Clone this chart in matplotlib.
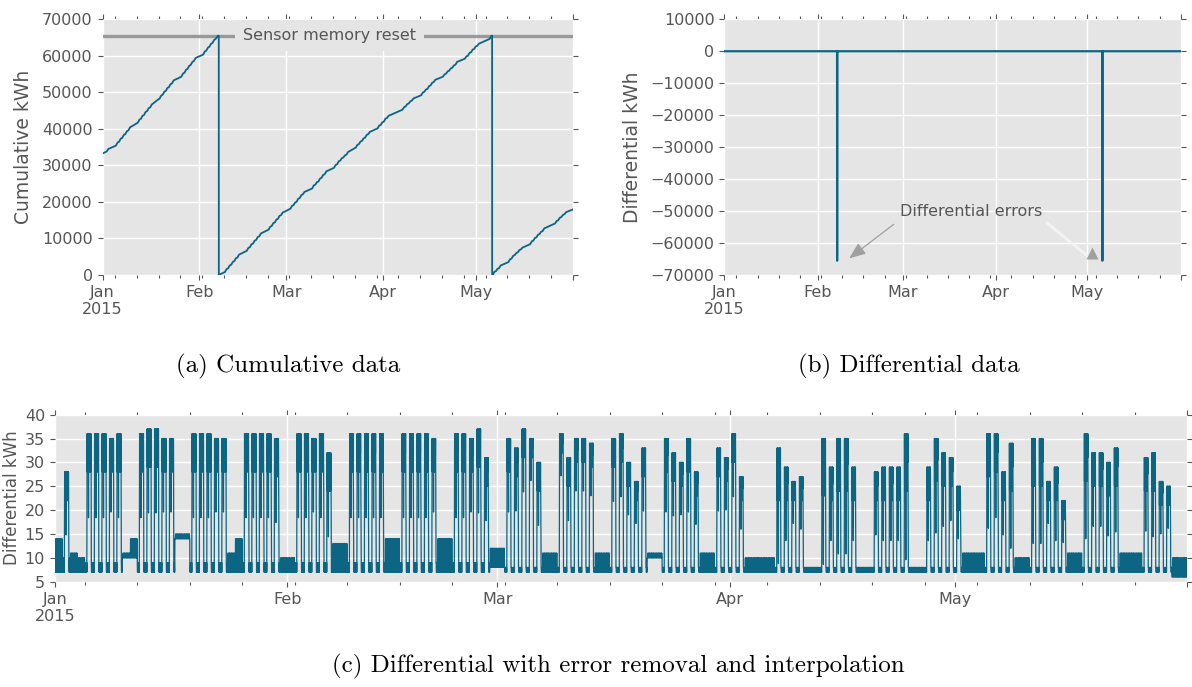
import numpy as np
import pandas as pd
import matplotlib
matplotlib.use("Agg")
import matplotlib.pyplot as plt
import matplotlib.dates as mdates
from matplotlib.ticker import MultipleLocator, FuncFormatter

# ---------------------------------------------------------------------------
# Daily readings, 1 Jan 2015 .. 31 May 2015 (one row per week, Mon..Sun;
# the first row is Thu 1 Jan .. Sun 4 Jan).  Values in kWh per half hour.
# work_top / work_low : top and lower edge of the daytime load band (0 = no work)
# work_span           : length of the working period, in half hours
# idle_lo / idle_hi   : range of the night / non-working-day load
# ---------------------------------------------------------------------------
work_top = [
    0, 28, 0, 0,
    36, 36, 36, 35, 36, 0, 0,
    36, 37, 37, 35, 35, 0, 0,
    36, 36, 36, 35, 35, 0, 0,
    36, 36, 36, 36, 35, 0, 0,
    36, 36, 35, 36, 32, 0, 0,
    36, 36, 36, 36, 36, 0, 0,
    36, 36, 36, 36, 35, 0, 0,
    36, 36, 35, 37, 31, 0, 0,
    35, 33, 37, 35, 30, 0, 0,
    36, 31, 35, 35, 34, 0, 0,
    35, 36, 30, 26, 33, 0, 0,
    35, 32, 30, 35, 28, 0, 0,
    33, 31, 36, 27, 0, 0, 0,
    0, 33, 29, 26, 27, 0, 0,
    35, 29, 35, 35, 29, 0, 0,
    28, 29, 29, 29, 36, 0, 0,
    29, 35, 32, 31, 25, 0, 0,
    0, 36, 36, 28, 34, 0, 0,
    35, 35, 26, 29, 22, 0, 0,
    36, 32, 32, 30, 33, 0, 0,
    0, 31, 32, 26, 25, 0, 0,
]
work_low = [
    0, 22, 0, 0,
    28, 28, 28, 28, 28, 0, 0,
    28, 29, 29, 28, 28, 0, 0,
    28, 28, 28, 28, 28, 0, 0,
    28, 28, 28, 28, 27, 0, 0,
    28, 28, 28, 28, 24, 0, 0,
    28, 28, 28, 28, 28, 0, 0,
    28, 28, 28, 28, 28, 0, 0,
    28, 28, 28, 29, 25, 0, 0,
    28, 27, 31, 31, 24, 0, 0,
    32, 25, 30, 30, 29, 0, 0,
    29, 30, 25, 22, 27, 0, 0,
    28, 26, 25, 28, 23, 0, 0,
    27, 26, 30, 22, 0, 0, 0,
    0, 22, 22, 22, 22, 0, 0,
    23, 22, 24, 24, 22, 0, 0,
    22, 22, 22, 22, 24, 0, 0,
    22, 26, 25, 25, 20, 0, 0,
    0, 27, 28, 22, 24, 0, 0,
    25, 25, 22, 22, 18, 0, 0,
    26, 25, 25, 23, 25, 0, 0,
    0, 24, 24, 21, 21, 0, 0,
]
work_span = [
    0, 26, 0, 0,
    26, 26, 26, 26, 26, 0, 0,
    26, 26, 26, 26, 26, 0, 0,
    26, 26, 26, 26, 26, 0, 0,
    27, 27, 27, 27, 27, 0, 0,
    27, 27, 27, 27, 27, 0, 0,
    24, 24, 24, 24, 24, 0, 0,
    24, 24, 24, 24, 24, 0, 0,
    24, 24, 24, 24, 24, 0, 0,
    24, 24, 24, 24, 24, 0, 0,
    24, 24, 24, 24, 24, 0, 0,
    24, 24, 24, 24, 24, 0, 0,
    24, 24, 24, 24, 24, 0, 0,
    24, 24, 24, 24, 0, 0, 0,
    0, 24, 24, 24, 24, 0, 0,
    24, 24, 24, 24, 24, 0, 0,
    24, 24, 24, 24, 24, 0, 0,
    24, 24, 24, 24, 24, 0, 0,
    0, 24, 24, 24, 24, 0, 0,
    24, 24, 24, 24, 24, 0, 0,
    24, 24, 24, 24, 24, 0, 0,
    0, 24, 24, 24, 24, 0, 0,
]
idle_lo = [
    7, 7, 7, 7,
    7, 7, 7, 7, 7, 10, 10,
    7, 7, 7, 7, 7, 14, 14,
    7, 7, 7, 7, 7, 7, 7,
    7, 7, 7, 7, 7, 7, 7,
    7, 7, 7, 7, 7, 7, 7,
    7, 7, 7, 7, 7, 7, 7,
    7, 7, 7, 7, 7, 7, 7,
    7, 7, 7, 7, 7, 8, 8,
    7, 7, 7, 7, 7, 7, 7,
    7, 7, 7, 7, 7, 7, 7,
    7, 7, 7, 7, 7, 10, 10,
    7, 7, 7, 7, 7, 7, 7,
    7, 7, 7, 7, 7, 7, 7,
    7, 7, 7, 7, 7, 7, 7,
    7, 7, 7, 7, 7, 7, 7,
    7, 7, 7, 7, 7, 7, 7,
    7, 7, 7, 7, 7, 7, 7,
    7, 7, 7, 7, 7, 7, 7,
    7, 7, 7, 7, 7, 7, 7,
    7, 7, 7, 7, 7, 7, 7,
    7, 7, 7, 7, 7, 6, 6,
]
idle_hi = [
    14, 10, 11, 10,
    9, 9, 9, 9, 9, 11, 14,
    9, 9, 9, 9, 9, 15, 15,
    9, 9, 9, 9, 9, 11, 14,
    9, 9, 9, 9, 9, 10, 10,
    9, 9, 9, 9, 9, 13, 13,
    9, 9, 9, 9, 9, 14, 14,
    9, 9, 9, 9, 9, 14, 14,
    9, 9, 9, 9, 9, 12, 12,
    8, 8, 8, 8, 8, 11, 11,
    8, 8, 8, 8, 8, 11, 11,
    8, 8, 8, 8, 8, 11, 11,
    8, 8, 8, 8, 8, 11, 11,
    8, 8, 8, 8, 10, 10, 10,
    10, 8, 8, 8, 8, 8, 8,
    8, 8, 8, 8, 8, 8, 8,
    8, 8, 8, 8, 8, 8, 8,
    8, 8, 8, 8, 8, 11, 11,
    11, 8, 8, 8, 8, 10, 10,
    8, 8, 8, 8, 8, 11, 11,
    8, 8, 8, 8, 8, 11, 11,
    11, 8, 8, 8, 8, 10, 10,
]

# Position of each working half hour inside the daytime band
# (0 = work_low, 1 = work_top, negative = short drop below the band)
band_position = [1, 0, 1, 1, 0, 1, 1, 0, 0, -1.2, 1, 1, 1, 1, 1, 0,
                 1, 1, 0, 1, 1, 0.5, 1, 0, 1, 1, 0, 1, 0, 1]
# Half-hourly switching of the idle load between idle_lo (0) and idle_hi (1)
idle_position = [0, 0, 0, 0, 1, 1, 0, 0, 0, 0, 0, 1, 0, 0, 0, 1,
                 1, 1, 0, 0, 0, 0, 0, 0, 1, 0, 0, 0, 1, 1, 0, 0,
                 0, 0, 1, 0, 0, 0, 0, 0, 1, 1, 0, 0, 0, 1, 0, 0]
work_centre = 27         # half hour around which the working period is centred

meter_start = 33270      # cumulative meter reading at 1 Jan 00:00
meter_max = 65536        # 16-bit sensor memory

# ---------------------------------------------------------------------------
n_days = len(work_top)
days = []
for d in range(n_days):
    lo, hi = idle_lo[d], idle_hi[d]
    load = [lo + p * (hi - lo) for p in idle_position]
    span = work_span[d]
    if span:
        start = work_centre - span // 2
        ramp = (hi + work_low[d]) / 2
        load[start - 1] = ramp
        for k in range(span):
            load[start + k] = (work_low[d] +
                               band_position[k] * (work_top[d] - work_low[d]))
        load[start + span] = ramp
    days.append(load)
diff_clean = np.array(days, float).ravel()

times = pd.date_range("2015-01-01", periods=n_days * 48, freq="30min")
# meter counter wraps around at the end of its memory
cumulative = (meter_start + np.cumsum(diff_clean) - diff_clean[0]) % meter_max
diff_raw = np.diff(cumulative, prepend=cumulative[0] - diff_clean[0])

# ---------------------------------------------------------------------------
line_color = "#0b6583"
txt = "#555555"
bg = "#E5E5E5"

plt.rcParams.update({
    "font.family": "DejaVu Sans",
    "axes.facecolor": bg,
    "axes.edgecolor": "white",
    "axes.grid": True,
    "grid.color": "white",
    "grid.linewidth": 1.0,
    "axes.axisbelow": True,
    "xtick.color": txt,
    "ytick.color": txt,
    "axes.labelcolor": txt,
})

fig = plt.figure(figsize=(11.92, 6.87), dpi=100)
ax_a = fig.add_axes([0.0861, 0.5997, 0.3945, 0.3722])
ax_b = fig.add_axes([0.6077, 0.5997, 0.3828, 0.3722])
ax_c = fig.add_axes([0.0461, 0.1533, 0.9497, 0.2431])

x0 = pd.Timestamp("2015-01-01")
x1 = pd.Timestamp("2015-06-01")


def month_label(x, pos):
    d = mdates.num2date(x)
    if d.month == 6:
        return ""
    return d.strftime("%b") + ("\n%d" % d.year if d.month == 1 else "")


for ax in (ax_a, ax_b, ax_c):
    ax.set_xlim(x0, x1)
    ax.xaxis.set_major_locator(mdates.MonthLocator())
    ax.xaxis.set_major_formatter(FuncFormatter(month_label))
    ax.xaxis.set_minor_locator(mdates.WeekdayLocator(byweekday=mdates.MO))
    ax.grid(True, which="major")
    ax.grid(False, which="minor")
    ax.tick_params(which="both", direction="out", top=True, right=True,
                   labelsize=11.5, width=0.8)
    ax.tick_params(which="major", length=3.6)
    ax.tick_params(which="minor", length=2.0)
    for sp in ax.spines.values():
        sp.set_visible(False)

# (a) cumulative
ax_a.plot(times, cumulative, color=line_color, lw=1.3, zorder=3)
ax_a.axhline(meter_max, color="#999999", lw=2.4, zorder=2)
ax_a.text(x0 + pd.Timedelta(days=72.85), meter_max, "Sensor memory reset",
          ha="center", va="center", fontsize=11.5, color=txt, zorder=4,
          bbox=dict(boxstyle="square,pad=0.5", fc=bg, ec="none"))
ax_a.set_ylim(0, 70000)
ax_a.yaxis.set_major_locator(MultipleLocator(10000))
ax_a.set_ylabel("Cumulative kWh", fontsize=13.5)
ax_a.yaxis.set_label_coords(-0.148, 0.5)

# (b) differential
ax_b.plot(times, diff_raw, color=line_color, lw=1.6, zorder=3)
ax_b.set_ylim(-70000, 10000)
ax_b.yaxis.set_major_locator(MultipleLocator(10000))
ax_b.set_ylabel("Differential kWh", fontsize=13.5)
ax_b.yaxis.set_label_coords(-0.180, 0.5)
ax_b.text(x0 + pd.Timedelta(days=81.7), -50000, "Differential errors",
          ha="center", va="center", fontsize=11.5, color=txt, zorder=4)
ax_b.annotate("", xy=(x0 + pd.Timedelta(days=41.3), -64780),
              xytext=(x0 + pd.Timedelta(days=56.05), -54140),
              arrowprops=dict(arrowstyle="-|>,head_length=1.0,head_width=0.4",
                              color="#a0a0a0", lw=0.9, mutation_scale=10,
                              shrinkA=0, shrinkB=0), zorder=4)
ax_b.annotate("", xy=(x0 + pd.Timedelta(days=121.0), -64690),
              xytext=(x0 + pd.Timedelta(days=106.8), -53740),
              arrowprops=dict(arrowstyle="-", color="#f2f2f2", lw=2.2,
                              shrinkA=0, shrinkB=0), zorder=2.5)
ax_b.plot([x0 + pd.Timedelta(days=121.6)], [-62970], marker="^", ms=8,
          color="#a0a0a0", mec="none", zorder=4)

# (c) cleaned differential
ax_c.plot(times, diff_clean, color=line_color, lw=0.9, zorder=3)
ax_c.set_ylim(5, 40)
ax_c.yaxis.set_major_locator(MultipleLocator(5))
ax_c.set_ylabel("Differential kWh", fontsize=12)
ax_c.yaxis.set_label_coords(-0.0303, 0.5)

cap = dict(ha="center", va="center", fontsize=18, family="cmr10", color="black")
fig.text(288 / 1192, 1 - 366 / 687, "(a) Cumulative data", **cap)
fig.text(909 / 1192, 1 - 366 / 687, "(b) Differential data", **cap)
fig.text(618 / 1192, 1 - 666 / 687,
         "(c) Differential with error removal and interpolation", **cap)

fig.savefig("out.png", dpi=100)
